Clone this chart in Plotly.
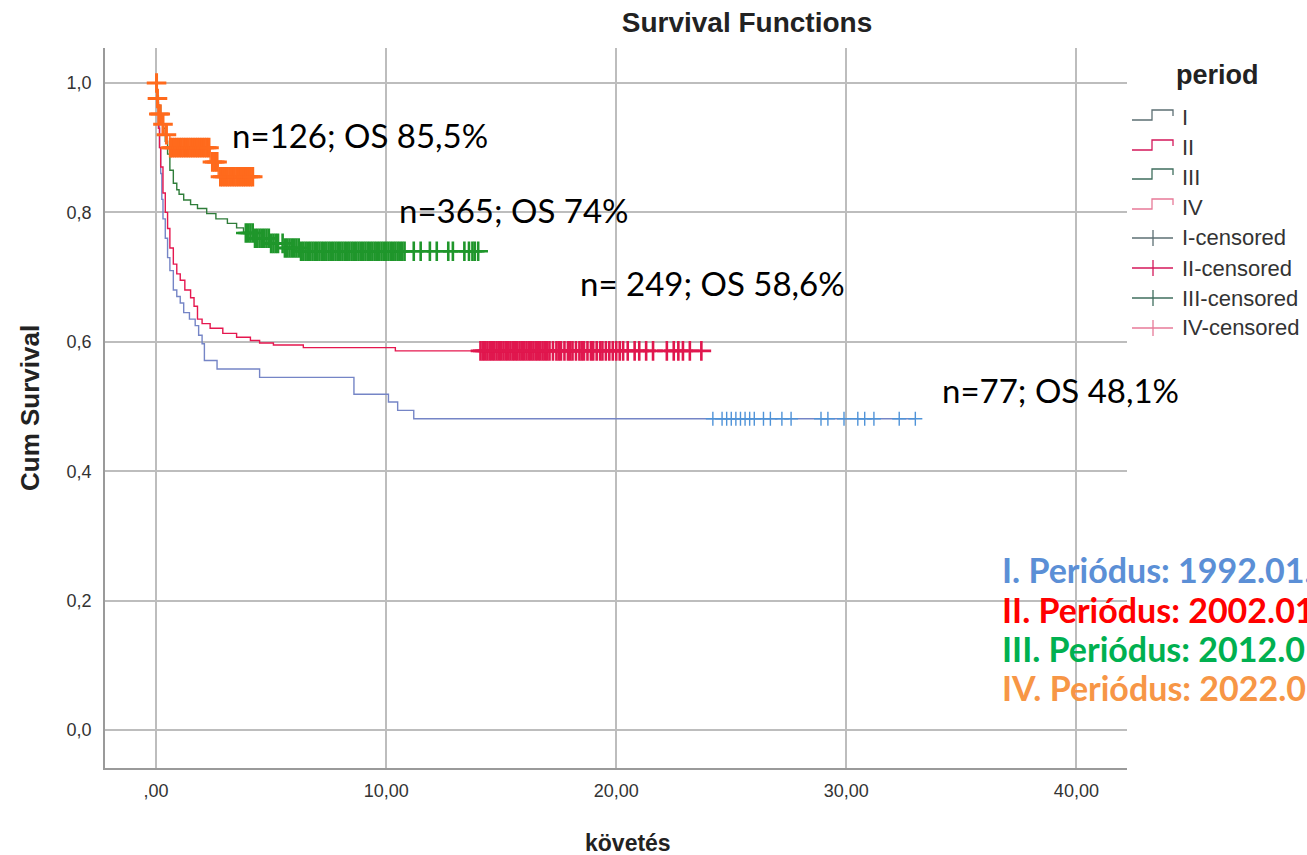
import numpy as np
import plotly.graph_objects as go

# Kaplan-Meier step data per period: event times (years) and survival after each step
period_names = ["I", "II", "III", "IV"]

I_time = [0, 0.05, 0.1, 0.15, 0.2, 0.25, 0.3, 0.4, 0.5, 0.6, 0.75, 0.9, 1.05, 1.2,
          1.45, 1.7, 1.85, 2.0, 2.1, 2.65, 4.5, 8.6, 10.1, 10.5, 11.2]
I_surv = [1.0, 0.97, 0.94, 0.90, 0.86, 0.82, 0.79, 0.76, 0.73, 0.71, 0.68, 0.67, 0.66, 0.645,
          0.635, 0.625, 0.61, 0.597, 0.571, 0.558, 0.545, 0.519, 0.507, 0.494, 0.481]
I_cens = [24.2, 24.6, 24.8, 25.0, 25.2, 25.4, 25.6, 25.8, 26.0, 26.4, 26.7, 27.2, 27.6,
          28.9, 29.2, 29.9, 30.5, 30.8, 31.2, 32.3, 33.0]

II_time = [0, 0.05, 0.1, 0.15, 0.2, 0.3, 0.4, 0.5, 0.6, 0.75, 0.9, 1.05, 1.25, 1.5, 1.65,
           1.8, 2.0, 2.35, 2.9, 3.5, 4.1, 4.5, 5.1, 6.4, 10.4]
II_surv = [1.0, 0.97, 0.93, 0.90, 0.87, 0.83, 0.80, 0.775, 0.745, 0.72, 0.705, 0.695, 0.68,
           0.668, 0.655, 0.635, 0.628, 0.621, 0.613, 0.607, 0.602, 0.598, 0.595, 0.591, 0.586]
II_cens = [14.1, 14.2, 14.3, 14.4, 14.5, 14.6, 14.7, 14.8, 14.9, 15.0, 15.1, 15.2, 15.3,
           15.4, 15.5, 15.6, 15.7, 15.8, 15.9, 16.0, 16.1, 16.2, 16.3, 16.4, 16.5, 16.6,
           16.7, 16.8, 16.9, 17.0, 17.1, 17.25, 17.4, 17.5, 17.6, 17.75, 17.9, 18.0, 18.1,
           18.25, 18.4, 18.5, 18.6, 18.75, 18.9, 19.0, 19.15, 19.3, 19.4, 19.55, 19.7,
           19.85, 20.0, 20.15, 20.3, 20.5, 20.8, 21.0, 21.3, 21.6, 22.2, 22.5, 22.7, 22.9,
           23.2, 23.7]

III_time = [0, 0.05, 0.1, 0.2, 0.3, 0.4, 0.5, 0.6, 0.75, 0.9, 1.0, 1.2, 1.5, 1.8, 2.2, 2.6,
            3.1, 3.5, 3.8, 4.3, 5.0, 5.6, 6.3]
III_surv = [1.0, 0.98, 0.965, 0.945, 0.93, 0.91, 0.89, 0.865, 0.845, 0.835, 0.828, 0.819,
            0.812, 0.806, 0.798, 0.79, 0.783, 0.776, 0.768, 0.76, 0.752, 0.745, 0.74]
III_cens = [3.9, 4.0, 4.1, 4.2, 4.3, 4.4, 4.5, 4.6, 4.7, 4.8, 4.9, 5.0, 5.1, 5.2, 5.3, 5.5,
            5.6, 5.7, 5.8, 5.9, 6.0, 6.1, 6.2, 6.3, 6.4, 6.5, 6.6, 6.7, 6.8, 6.9, 7.0, 7.1,
            7.2, 7.3, 7.4, 7.5, 7.6, 7.7, 7.8, 7.9, 8.0, 8.1, 8.2, 8.3, 8.4, 8.5, 8.6, 8.7,
            8.8, 8.9, 9.0, 9.1, 9.2, 9.3, 9.4, 9.5, 9.6, 9.7, 9.8, 9.9, 10.0, 10.1, 10.2,
            10.3, 10.4, 10.5, 10.6, 10.7, 10.8, 11.2, 11.5, 11.9, 12.2, 12.7, 12.9, 13.4,
            13.6, 13.75, 13.85, 14.0]

IV_time = [0, 0.04, 0.1, 0.25, 0.4, 0.6, 2.35, 2.7]
IV_surv = [1.0, 0.976, 0.952, 0.936, 0.92, 0.9, 0.878, 0.855]
IV_cens = [0.02, 0.06, 0.12, 0.18, 0.3, 0.45, 0.62, 0.7, 0.8, 0.9, 1.0, 1.1, 1.2, 1.3, 1.4,
           1.5, 1.6, 1.7, 1.8, 1.9, 2.0, 2.1, 2.2, 2.3, 2.45, 2.55, 2.65, 2.8, 2.9, 3.0, 3.1,
           3.2, 3.3, 3.4, 3.5, 3.6, 3.7, 3.8, 3.9, 4.0, 4.1, 4.2]

x_ticks = [0, 10, 20, 30, 40]
x_tick_text = [",00", "10,00", "20,00", "30,00", "40,00"]
y_ticks = [0.0, 0.2, 0.4, 0.6, 0.8, 1.0]
y_tick_text = ["0,0", "0,2", "0,4", "0,6", "0,8", "1,0"]

os_labels = ["n=77; OS 48,1%", "n= 249; OS 58,6%", "n=365; OS 74%", "n=126; OS 85,5%"]
period_texts = ["I. Periódus: 1992.01.01–2001.12.31",
                "II. Periódus: 2002.01.01–2011.12.31",
                "III. Periódus: 2012.01.01–2021.12.31",
                "IV. Periódus: 2022.01.01–"]

groups = [
    (I_time, I_surv, I_cens),
    (II_time, II_surv, II_cens),
    (III_time, III_surv, III_cens),
    (IV_time, IV_surv, IV_cens),
]

line_colors = ["#7585c6", "#e5174f", "#2f7d3a", "#ff6a1c"]
mark_colors = ["#4f93d8", "#e0174e", "#1f962b", "#ff6a1c"]
mark_sizes = [10, 14, 14, 14]
mark_widths = [1.4, 2.6, 2.6, 3.0]
text_colors = ["#5b8fd6", "#ff0000", "#00b050", "#f79646"]

legend_line_colors = ["#5c6f73", "#d4175a", "#3f6e5e", "#e77a98"]

# Plot area in page pixels
W, H = 1307, 855
L, R, T, B = 105, 1127, 48, 768


def fx(px):
    return (px - L) / (R - L)


def fy(py):
    return (B - py) / (B - T)


fig = go.Figure()

for (t, s, c), lc, mc, ms, mw, name in zip(groups, line_colors, mark_colors,
                                          mark_sizes, mark_widths, period_names):
    t = np.asarray(t, float)
    s = np.asarray(s, float)
    c = np.asarray(c, float)
    end = max(t[-1], c.max())
    fig.add_trace(go.Scatter(
        x=np.append(t, end), y=np.append(s, s[-1]),
        mode="lines", line=dict(color=lc, width=1.4, shape="hv"),
        name=name, showlegend=False, hoverinfo="skip"))
    idx = np.searchsorted(t, c, side="right") - 1
    fig.add_trace(go.Scatter(
        x=c, y=s[idx], mode="markers",
        marker=dict(symbol="cross-thin", size=ms, color=mc,
                    line=dict(color=mc, width=mw)),
        name=name + "-censored", showlegend=False, hoverinfo="skip"))

annotations = []
shapes = []

# Axis titles
annotations.append(dict(
    x=fx(628), y=fy(843), xref="paper", yref="paper", text="<b>követés</b>",
    showarrow=False, xanchor="center", yanchor="middle",
    font=dict(family="Liberation Sans", size=23, color="#222222")))
annotations.append(dict(
    x=fx(30), y=fy(408), xref="paper", yref="paper", text="<b>Cum Survival</b>",
    showarrow=False, xanchor="center", yanchor="middle", textangle=-90,
    font=dict(family="Liberation Sans", size=26, color="#222222")))

# n / OS labels next to each curve
label_pos = [(940, 390), (578, 283), (397, 210), (230, 135)]
for txt, (px, py) in zip(os_labels, label_pos):
    annotations.append(dict(
        x=fx(px), y=fy(py), xref="paper", yref="paper", text=txt,
        showarrow=False, xanchor="left", yanchor="middle",
        font=dict(family="Lato", size=33, color="#000000")))

# Period date ranges
period_y = [569, 609, 648, 687]
for txt, col, py in zip(period_texts, text_colors, period_y):
    annotations.append(dict(
        x=fx(1000), y=fy(py), xref="paper", yref="paper", text="<b>" + txt + "</b>",
        showarrow=False, xanchor="left", yanchor="middle",
        font=dict(family="Lato", size=34, color=col)))

# Legend
annotations.append(dict(
    x=fx(1217), y=fy(75), xref="paper", yref="paper", text="<b>period</b>",
    showarrow=False, xanchor="center", yanchor="middle",
    font=dict(family="Liberation Sans", size=27, color="#222222")))

row_y = [118, 148, 177, 207, 238, 268, 298, 328]
legend_labels = period_names + [n + "-censored" for n in period_names]
for i, (lab, ry) in enumerate(zip(legend_labels, row_y)):
    col = legend_line_colors[i % 4]
    annotations.append(dict(
        x=fx(1180), y=fy(ry), xref="paper", yref="paper", text=lab,
        showarrow=False, xanchor="left", yanchor="middle",
        font=dict(family="Liberation Sans", size=22, color="#333333")))
    if i < 4:
        path = "M {:.5f} {:.5f} L {:.5f} {:.5f} L {:.5f} {:.5f} L {:.5f} {:.5f} L {:.5f} {:.5f}".format(
            fx(1132), fy(ry + 2), fx(1152), fy(ry + 2), fx(1152), fy(ry - 8),
            fx(1173), fy(ry - 8), fx(1173), fy(ry - 2))
        shapes.append(dict(type="path", path=path, xref="paper", yref="paper",
                           line=dict(color=col, width=1.3)))
    else:
        shapes.append(dict(type="line", xref="paper", yref="paper",
                           x0=fx(1132), x1=fx(1173), y0=fy(ry), y1=fy(ry),
                           line=dict(color=col, width=1.3)))
        shapes.append(dict(type="line", xref="paper", yref="paper",
                           x0=fx(1153), x1=fx(1153), y0=fy(ry - 8), y1=fy(ry + 8),
                           line=dict(color=col, width=1.3)))

fig.update_layout(
    width=W, height=H,
    margin=dict(l=L, r=W - R, t=T, b=H - B),
    paper_bgcolor="white", plot_bgcolor="white",
    title=dict(text="<b>Survival Functions</b>", x=fx(747), xref="paper",
               xanchor="center", y=1 - 22 / H, yanchor="middle",
               font=dict(family="Liberation Sans", size=28, color="#222222")),
    xaxis=dict(range=[-2.22, 42.2], tickvals=x_ticks, ticktext=x_tick_text,
               showgrid=True, gridcolor="#bdbdbd", gridwidth=1.5,
               showline=True, linecolor="#9a9a9a", linewidth=1.5,
               zeroline=False, ticks="", ticklabelstandoff=6,
               tickfont=dict(family="Liberation Sans", size=18, color="#333333")),
    yaxis=dict(range=[-0.0587, 1.054], tickvals=y_ticks, ticktext=y_tick_text,
               showgrid=True, gridcolor="#bdbdbd", gridwidth=1.5,
               showline=True, linecolor="#9a9a9a", linewidth=1.5,
               zeroline=False, ticks="", ticklabelstandoff=8,
               tickfont=dict(family="Liberation Sans", size=18, color="#333333")),
    annotations=annotations,
    shapes=shapes,
    showlegend=False,
)

fig.write_html("out.html")
